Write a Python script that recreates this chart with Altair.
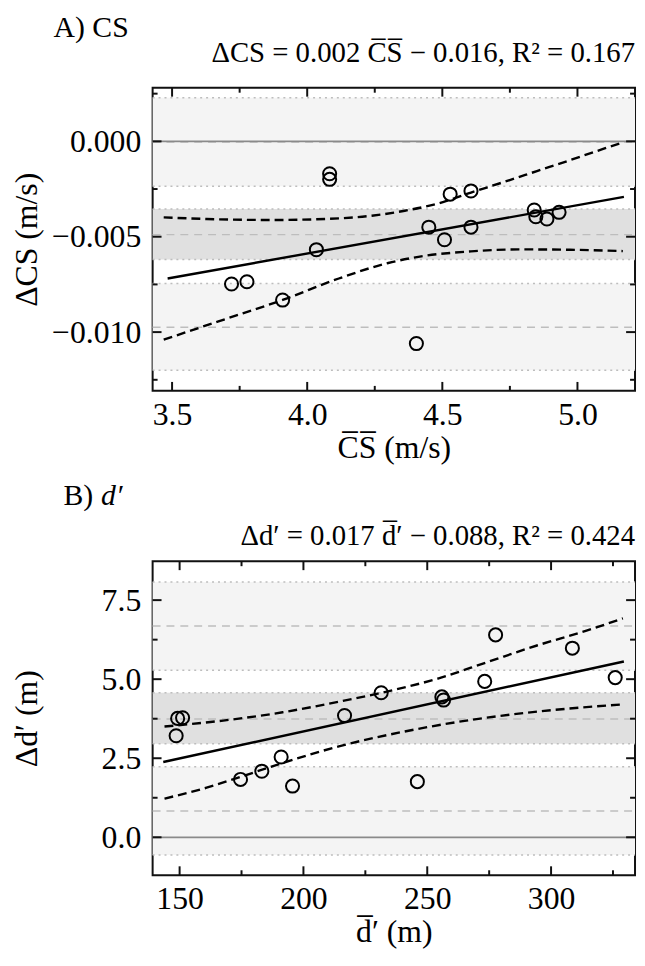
import altair as alt
import pandas as pd

FONT = "Liberation Serif"
W = 487
H_A = 306
H_B = 317

# ---------------- Panel A: CS ----------------
CS_MEAN = [3.720, 3.777, 3.909, 4.034, 4.083, 4.083, 4.404, 4.450,
           4.508, 4.529, 4.606, 4.606, 4.840, 4.846, 4.887, 4.932]
CS_DIFF = [-0.00748, -0.00736, -0.00832, -0.00568, -0.00170, -0.00199, -0.01060, -0.00450,
           -0.00516, -0.00277, -0.00260, -0.00450, -0.00360, -0.00395, -0.00407, -0.00372]
CS_FIT_X = [3.4835, 5.172]
CS_FIT_Y = [-0.00719, -0.00291]
CS_CI_UP_X = [3.469, 3.628, 3.872, 4.117, 4.239, 4.361, 4.484, 4.606, 4.728, 4.850, 4.972, 5.095, 5.162]
CS_CI_UP_Y = [-0.003985, -0.004071, -0.004123, -0.004037, -0.003898, -0.003638, -0.003257,
              -0.002685, -0.002131, -0.001559, -0.000988, -0.000399, -0.000087]
CS_CI_LO_X = [3.469, 3.689, 3.909, 4.117, 4.300, 4.422, 4.606, 4.789, 4.972, 5.168]
CS_CI_LO_Y = [-0.010395, -0.009356, -0.008316, -0.007190, -0.006376, -0.006029,
              -0.005769, -0.005665, -0.005683, -0.005752]
CS_BIAS = [-0.00489]
CS_LOA = [-0.00004, -0.00974]
CS_BIAS_CI = [-0.00355, -0.00619]
CS_LOA_UP_CI = [0.00229, -0.00236]
CS_LOA_LO_CI = [-0.00745, -0.01200]
CS_X_MAJOR = [3.5, 4.0, 4.5, 5.0]
CS_X_MINOR = [3.75, 4.25, 4.75]
CS_Y_MAJOR = [0.0, -0.005, -0.010]
CS_Y_MINOR = [0.0025, -0.0025, -0.0075, -0.0125]
CS_X_DOMAIN = [3.428, 5.213]
CS_Y_DOMAIN = [-0.01308, 0.00281]

# ---------------- Panel B: d' ----------------
D_MEAN = [148.6, 149.2, 151.2, 174.6, 183.2, 191.0, 195.6, 216.6,
          231.4, 246.0, 255.9, 256.6, 273.2, 277.6, 308.6, 325.9]
D_DIFF = [3.21, 3.76, 3.78, 1.83, 2.09, 2.54, 1.62, 3.85,
          4.57, 1.76, 4.44, 4.34, 4.93, 6.40, 5.98, 5.05]
D_FIT_X = [143.4, 329.4]
D_FIT_Y = [2.38, 5.56]
D_CI_UP_X = [143.9, 167.6, 191.6, 214.3, 231.5, 254.3, 274.3, 294.3, 314.3, 329.0]
D_CI_UP_Y = [3.503, 3.691, 3.953, 4.287, 4.570, 5.019, 5.542, 6.065, 6.535, 6.922]
D_CI_LO_X = [143.9, 160.9, 174.3, 190.9, 214.3, 240.9, 267.6, 294.3, 329.0]
D_CI_LO_Y = [1.223, 1.568, 1.903, 2.330, 2.876, 3.346, 3.712, 3.973, 4.204]
D_BIAS = [3.74]
D_LOA = [6.68, 0.83]
D_BIAS_CI = [4.57, 2.96]
D_LOA_UP_CI = [8.07, 5.28]
D_LOA_LO_CI = [2.23, -0.56]
D_X_MAJOR = [150, 200, 250, 300]
D_X_MINOR = [175, 225, 275, 325]
D_Y_MAJOR = [0.0, 2.5, 5.0, 7.5]
D_Y_MINOR = [1.25, 3.75, 6.25]
D_X_DOMAIN = [139.1, 333.9]
D_Y_DOMAIN = [-1.20, 8.73]

LIGHT = "#f4f4f4"
BAND = "#e0e0e0"
REF = "#bdbdbd"
FS = 32


def panel(mean, diff, fitx, fity, upx, upy, lox, loy, bias, loa, bias_ci, loa_up_ci, loa_lo_ci,
          xmaj, xmin, ymaj, ymin, xdom, ydom, xfmt, yfmt, xtitle, ytitle,
          label, label_it, formula, H, label_x, label_it_x, label_y, formula_y):
    xs = alt.Scale(domain=xdom, nice=False, zero=False)
    ys = alt.Scale(domain=ydom, nice=False, zero=False)
    AX = alt.Axis(values=xmaj, format=xfmt, title=xtitle, ticks=False, tickSize=0, domain=False,
                  grid=False, labelPadding=9, titlePadding=2, labelFlush=False)
    AY = alt.Axis(values=ymaj, format=yfmt, title=ytitle, ticks=False, tickSize=0, domain=False,
                  grid=False, labelPadding=12, titleX=-110, titleY=H / 2,
                  titleBaseline="bottom", labelFlush=False)

    def X(f):
        return alt.X(f, type="quantitative", scale=xs, axis=AX)

    def Y(f):
        return alt.Y(f, type="quantitative", scale=ys, axis=AY)

    pts = pd.DataFrame({"m": mean, "d": diff})
    points = alt.Chart(pts).mark_point(
        shape="circle", filled=False, size=175, strokeWidth=2, color="black", opacity=1
    ).encode(x=X("m"), y=Y("d"))

    def band(lims, color):
        df = pd.DataFrame({"v": [lims[0]], "v2": [lims[1]]})
        return alt.Chart(df).mark_rect(color=color, opacity=1).encode(
            y=Y("v"), y2="v2:Q", x=alt.value(0), x2=alt.value(W))

    def hline(vals, color, dash, width=1.5):
        df = pd.DataFrame({"v": vals})
        kw = dict(color=color, strokeWidth=width)
        if dash:
            kw["strokeDash"] = dash
        return alt.Chart(df).mark_rule(**kw).encode(
            y=Y("v"), x=alt.value(0), x2=alt.value(W))

    def curve(xv, yv, dash):
        df = pd.DataFrame({"m": xv, "d": yv})
        kw = dict(color="black", strokeWidth=2.4, interpolate="monotone")
        if dash:
            kw["strokeDash"] = dash
        return alt.Chart(df).mark_line(**kw).encode(x=X("m"), y=Y("d"))

    def xticks(vals, length):
        df = pd.DataFrame({"m": vals})
        b = alt.Chart(df).mark_rule(color="#111", strokeWidth=2)
        return [
            b.encode(x=X("m"), y=alt.value(H), y2=alt.value(H - length)),
            b.encode(x=X("m"), y=alt.value(0), y2=alt.value(length)),
        ]

    def yticks(vals, length):
        df = pd.DataFrame({"v": vals})
        b = alt.Chart(df).mark_rule(color="#111", strokeWidth=2)
        return [
            b.encode(y=Y("v"), x=alt.value(0), x2=alt.value(length)),
            b.encode(y=Y("v"), x=alt.value(W), x2=alt.value(W - length)),
        ]

    def text(t, x, y, align, style="normal", size=30):
        return alt.Chart(pd.DataFrame({"t": [t]})).mark_text(
            font=FONT, fontSize=size, align=align, baseline="middle", color="black",
            fontStyle=style
        ).encode(text="t:N", x=alt.value(x), y=alt.value(y))

    layers = [
        band(loa_up_ci, LIGHT), band(loa_lo_ci, LIGHT), band(bias_ci, BAND),
        hline(loa_up_ci + loa_lo_ci + bias_ci, REF, [2, 4]),
        hline(bias + loa, REF, [8, 6]),
        hline([0.0], "#8a8a8a", None, 1.8),
        curve(upx, upy, [9, 5]), curve(lox, loy, [9, 5]),
        curve(fitx, fity, None),
        points,
    ] + xticks(xmaj, 9) + xticks(xmin, 5) + yticks(ymaj, 9) + yticks(ymin, 5) + [
        text(label, label_x, label_y, "left"),
        text(formula, W, formula_y, "right", size=29),
    ]
    if label_it:
        layers.append(text(label_it, label_it_x, label_y, "left", style="italic"))

    return alt.layer(*layers).properties(width=W, height=H)


top = panel(CS_MEAN, CS_DIFF, CS_FIT_X, CS_FIT_Y, CS_CI_UP_X, CS_CI_UP_Y, CS_CI_LO_X, CS_CI_LO_Y,
            CS_BIAS, CS_LOA, CS_BIAS_CI, CS_LOA_UP_CI, CS_LOA_LO_CI,
            CS_X_MAJOR, CS_X_MINOR, CS_Y_MAJOR, CS_Y_MINOR, CS_X_DOMAIN, CS_Y_DOMAIN,
            ".1f", ".3f", "C\u0305S\u0305 (m/s)", "\u0394CS (m/s)",
            "A) CS", "", "\u0394CS = 0.002 C\u0305S\u0305 \u2212 0.016, R\u00b2 = 0.167",
            H_A, -100, 0, -60, -35)

bottom = panel(D_MEAN, D_DIFF, D_FIT_X, D_FIT_Y, D_CI_UP_X, D_CI_UP_Y, D_CI_LO_X, D_CI_LO_Y,
               D_BIAS, D_LOA, D_BIAS_CI, D_LOA_UP_CI, D_LOA_LO_CI,
               D_X_MAJOR, D_X_MINOR, D_Y_MAJOR, D_Y_MINOR, D_X_DOMAIN, D_Y_DOMAIN,
               ".0f", ".1f", "d\u0305\u2032 (m)", "\u0394d\u2032 (m)",
               "B)", "d\u2032", "\u0394d\u2032 = 0.017 d\u0305\u2032 \u2212 0.088, R\u00b2 = 0.424",
               H_B, -90, -52, -66, -25)

chart = alt.vconcat(top, bottom, spacing=16).properties(
    padding={"left": 2, "top": 0, "right": 0, "bottom": 0}, background="white"
).configure_view(
    stroke="#111", strokeWidth=2
).configure_axis(
    labelFont=FONT, titleFont=FONT, labelFontSize=FS, titleFontSize=FS,
    labelColor="black", titleColor="black", titleFontWeight="normal"
)

chart.save("out.html", embed_options={"renderer": "svg", "actions": False})
